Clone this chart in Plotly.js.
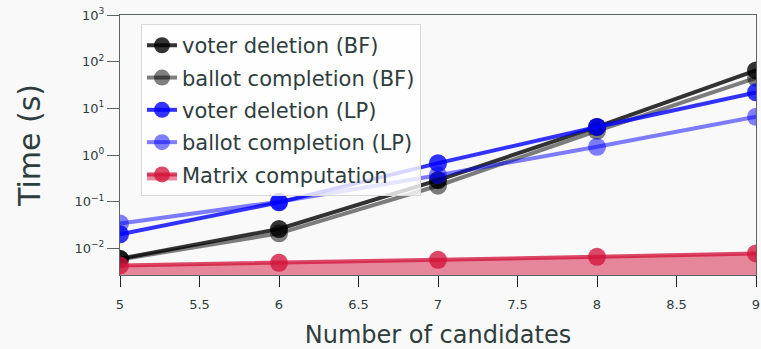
<!DOCTYPE html>
<html><head><meta charset="utf-8">
<script src="https://cdn.plot.ly/plotly-3.0.1.min.js"></script>
<style>html,body{margin:0;padding:0;background:#f9f9f9;}</style>
</head><body>
<div id="chart" style="width:761px;height:349px;"></div>
<script>
const candidates = [5, 6, 7, 8, 9];
const voterDeletionBF = [0.0060, 0.026, 0.29, 4.0, 65];
const ballotCompletionBF = [0.0058, 0.021, 0.22, 3.3, 45];
const voterDeletionLP = [0.020, 0.097, 0.67, 4.0, 22];
const ballotCompletionLP = [0.034, 0.100, 0.37, 1.5, 6.6];
const matrixComputation = [0.0043, 0.0049, 0.0057, 0.0066, 0.0078];
const xTicks = [5, 5.5, 6, 6.5, 7, 7.5, 8, 8.5, 9];
const yTickVals = [0.01, 0.1, 1, 10, 100, 1000];
const yTickText = ['10<sup>\u22122</sup>', '10<sup>\u22121</sup>', '10<sup>0</sup>', '10<sup>1</sup>', '10<sup>2</sup>', '10<sup>3</sup>'];

const textColor = '#2e3d3d';
function series(name, y, color, extra) {
  return Object.assign({
    x: candidates, y: y, name: name, type: 'scatter', mode: 'lines+markers',
    legendgroup: name,
    line: {color: color, width: 4},
    marker: {color: color, size: 18}
  }, extra || {});
}
const data = [
  series('voter deletion (BF)', voterDeletionBF, 'rgba(0,0,0,0.8)'),
  series('ballot completion (BF)', ballotCompletionBF, 'rgba(0,0,0,0.5)'),
  series('voter deletion (LP)', voterDeletionLP, 'rgba(0,0,255,0.8)'),
  series('ballot completion (LP)', ballotCompletionLP, 'rgba(0,0,255,0.5)'),
  series('Matrix computation', matrixComputation, 'rgba(210,20,60,0.78)', {fill: 'tozeroy', fillcolor: 'rgba(210,20,60,0.5)'})
];

const layout = {
  width: 761, height: 349,
  paper_bgcolor: '#f9f9f9', plot_bgcolor: '#f9f9f9',
  font: {family: '"DejaVu Sans", sans-serif', color: textColor, size: 13},
  margin: {l: 120, r: 5, t: 15, b: 74},
  showlegend: true,
  legend: {
    x: 0.033, y: 0.965, xanchor: 'left', yanchor: 'top',
    traceorder: 'grouped', tracegroupgap: 2,
    bgcolor: 'rgba(255,255,255,0.8)', bordercolor: '#d8d8d8', borderwidth: 1,
    font: {size: 21, color: textColor}
  },
  xaxis: {
    range: [5, 9], tickvals: xTicks, ticktext: xTicks.map(String),
    ticks: 'outside', ticklen: 11, tickcolor: '#222', showgrid: false, zeroline: false,
    ticklabelstandoff: 6,
    showline: true, linecolor: '#5a6666', mirror: true,
    title: {text: 'Number of candidates', font: {size: 24, color: textColor}, standoff: 18}
  },
  yaxis: {
    type: 'log', range: [-2.57, 3], tickvals: yTickVals, ticktext: yTickText,
    ticks: 'outside', ticklen: 12, tickcolor: '#5a6666', showgrid: false, zeroline: false,
    showline: true, linecolor: '#5a6666', mirror: true,
    title: {text: 'Time (s)', font: {size: 30, color: textColor}, standoff: 24}
  }
};
Plotly.newPlot('chart', data, layout, {displayModeBar: false, staticPlot: true});
</script>
</body></html>
